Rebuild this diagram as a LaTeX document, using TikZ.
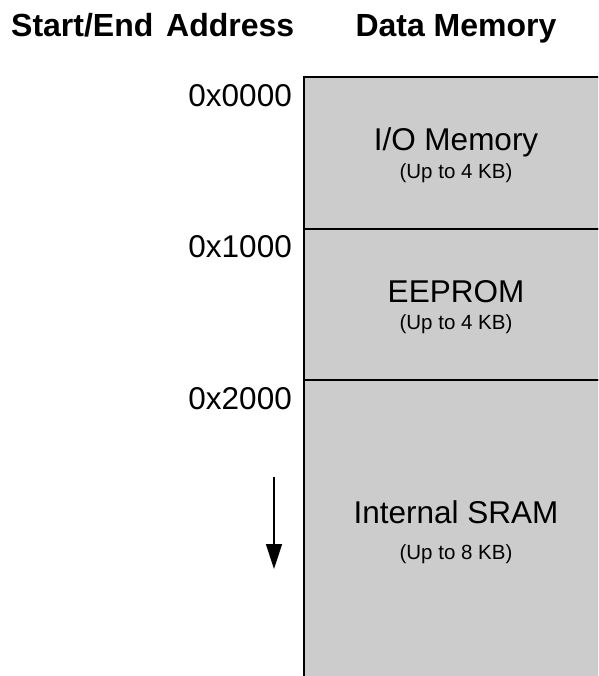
\documentclass[tikz,border=0pt]{standalone}
\usepackage{fontspec}
\setmainfont{Liberation Sans}
\usetikzlibrary{arrows.meta}
\definecolor{memgray}{RGB}{204,204,204}
\begin{document}
\begin{tikzpicture}[x=1pt,y=-1pt,
  mem/.style={draw=black, line width=1.5pt, fill=memgray, minimum width=304pt, anchor=north west, inner sep=0pt, outer sep=0pt},
  addr/.style={anchor=base east, inner sep=0pt, font=\fontsize{31.5}{36}\selectfont},
  headl/.style={inner sep=0pt, font=\fontsize{32}{36}\selectfont\bfseries},
  big/.style={anchor=base, inner sep=0pt, font=\fontsize{31.5}{36}\selectfont},
  small/.style={anchor=base, inner sep=0pt, font=\fontsize{20.5}{24}\selectfont},
  growarrow/.style={line width=1.5pt, -{Triangle[length=25pt,width=16pt]}}]
\clip (0,0) rectangle (598,676);
\fill[white] (0,0) rectangle (598,676);
% headers
\node[headl, anchor=base west] (hAddr) at (11,37) {Start/End\hspace{0.4em}Address};
\node[headl, anchor=base] (hMem) at (456,37) {Data Memory};
% memory sections
\node[mem, minimum height=152pt] (io) at (304,77) {};
\node[mem, minimum height=151pt] (ee) at (304,229) {};
\node[mem, minimum height=330pt] (sram) at (304,380) {};
% section labels
\node[big] (ioT) at (456,151) {I/O Memory};
\node[small] (ioS) at (456,179) {(Up to 4 KB)};
\node[big] (eeT) at (456,302) {EEPROM};
\node[small] (eeS) at (456,329) {(Up to 4 KB)};
\node[big] (srT) at (456,523) {Internal SRAM};
\node[small] (srS) at (456,559) {(Up to 8 KB)};
% addresses
\node[addr] (a0) at (292,107) {0x0000};
\node[addr] (a1) at (292,257) {0x1000};
\node[addr] (a2) at (292,409) {0x2000};
% direction arrow
\coordinate (arTop) at (274,477);
\coordinate (arTip) at (274,569);
\draw[growarrow] (arTop) -- (arTip);
\end{tikzpicture}
\end{document}
